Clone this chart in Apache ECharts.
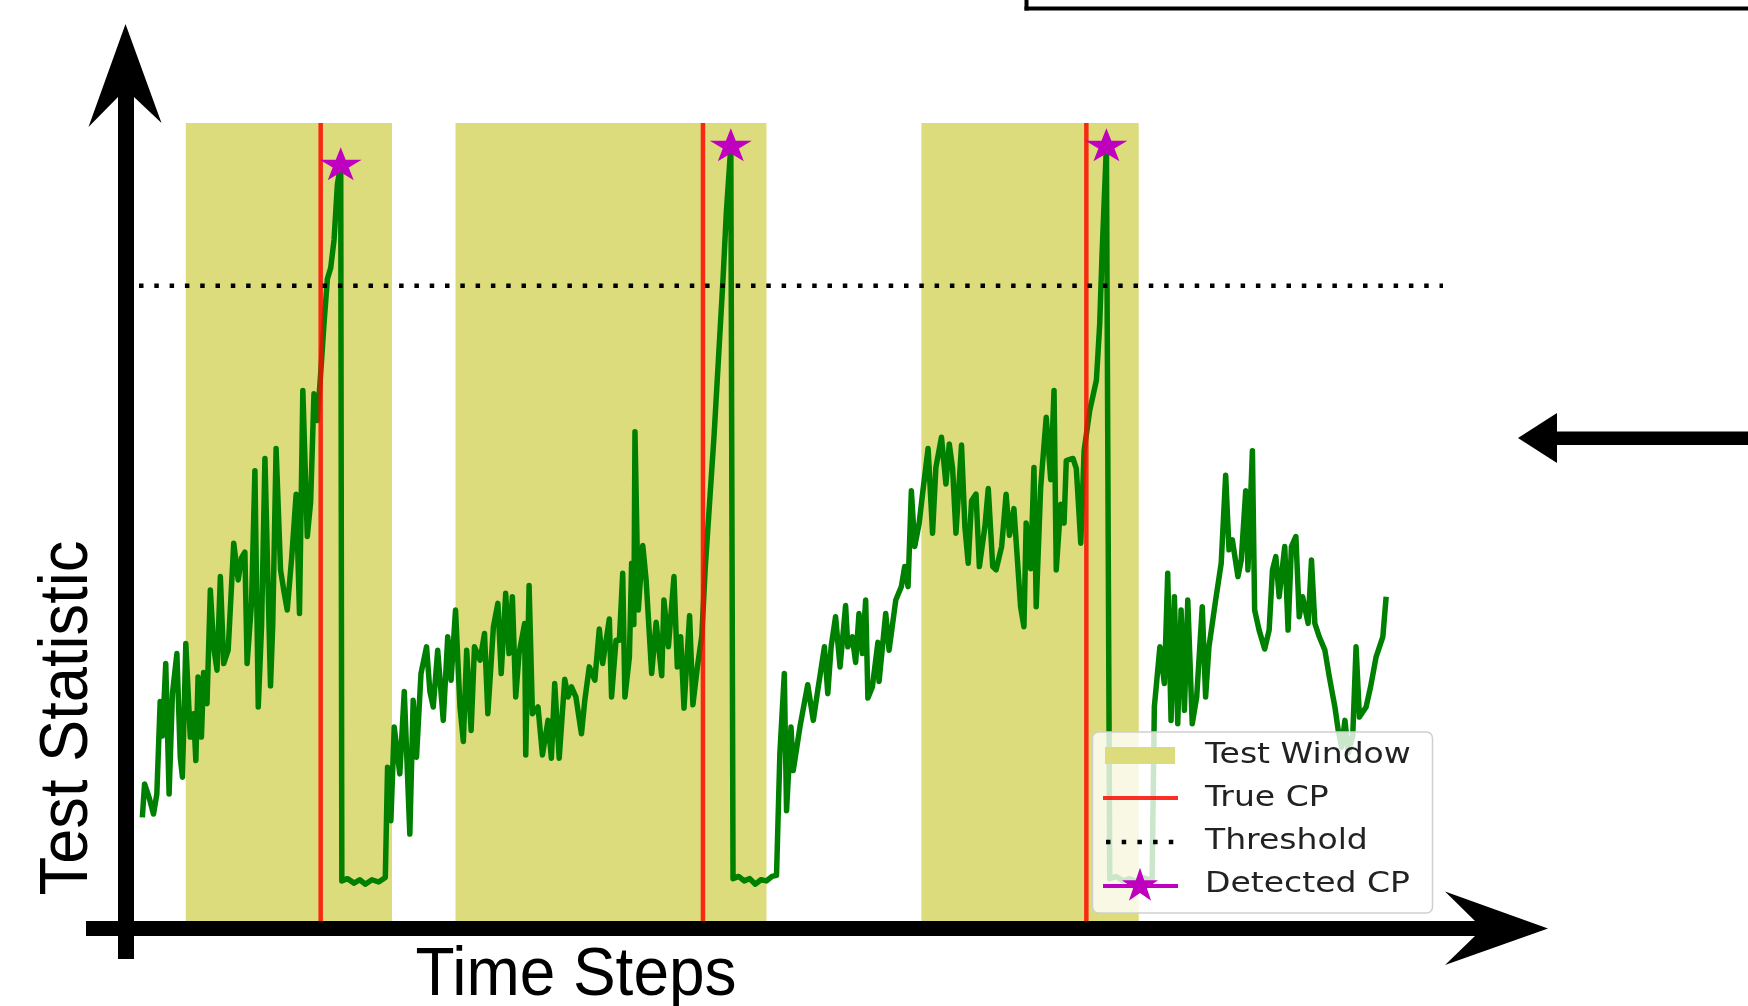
<!DOCTYPE html>
<html>
<head>
<meta charset="utf-8">
<title>Test Statistic</title>
<script src="https://cdn.jsdelivr.net/npm/echarts@6/dist/echarts.min.js"></script>
<style>
  html, body { margin: 0; padding: 0; background: #fff; }
  #chart { width: 1748px; height: 1006px; }
</style>
</head>
<body>
<div id="chart"></div>
<script>
// time steps and test statistic
var timeSteps = [
  3, 5, 9, 13, 16, 19, 21, 24, 27, 30, 34, 37, 39, 42, 46, 49, 51, 53, 56, 58,
  61, 64, 67, 70, 73, 76, 80, 85, 89, 92, 95, 97, 101, 104, 107, 110, 113, 118, 120, 123,
  127, 130, 133, 137, 141, 144, 147, 151, 154, 157, 160, 163, 166, 169, 172, 175, 178, 181,
  182, 187, 193, 198, 203, 209, 215, 221,
  223, 226, 229, 234, 238, 243, 246, 249, 253, 258, 261, 264, 268, 273, 277, 280, 284, 288,
  291, 294, 298, 301, 306, 310, 313, 318, 322, 325, 329, 332, 335, 338, 341, 346, 347, 350,
  353, 358, 362, 367, 370, 373, 377, 382, 385, 388, 392, 397, 400, 404, 409, 413, 416, 422,
  424, 428, 431, 434, 436, 440, 442, 444, 445, 448, 452, 455, 460, 464, 469, 471, 475, 480,
  483, 486, 489, 494, 497, 501, 505, 508, 512, 516, 520, 524, 527, 531,
  533, 538, 543, 548, 553, 558, 563, 568, 572,
  575, 579, 581, 585, 587, 593, 600, 605, 609, 615, 618, 621, 625, 629, 634, 636, 640, 643,
  646, 649, 652, 654, 658, 663, 664, 670, 673, 679, 684, 687, 690, 693, 696, 700, 703, 708,
  712, 715, 720, 724, 727, 730, 733, 738, 741, 744, 747, 751, 754, 759, 762, 766, 769, 774,
  778, 781, 785, 788, 791, 794, 796, 800, 803, 805, 809, 814, 818, 821, 823, 827, 830, 832,
  838, 841, 845, 848, 853, 859, 862, 864, 866, 868,
  871, 877, 883, 889, 895, 901, 907, 909,
  911, 916, 920, 923, 926, 929, 932, 935, 938, 941, 945, 949, 954, 957, 960, 966, 971, 975,
  978, 981, 986, 989, 993, 995, 999, 1001, 1005, 1010, 1014, 1017, 1020, 1023, 1028, 1031,
  1034, 1038, 1041, 1044, 1049, 1052, 1055, 1059, 1064, 1068, 1073, 1076, 1079, 1082, 1085,
  1089, 1092, 1095, 1101, 1105, 1110, 1116, 1119
];
var testStat = [
  93, 123, 111, 96, 114, 197, 166, 231, 114, 204, 240, 147, 129, 249, 165, 186, 144, 219, 165, 223,
  195, 297, 246, 225, 309, 231, 243, 339, 306, 326, 331, 231, 286, 404, 192, 266, 415, 211, 266, 424,
  315, 296, 279, 326, 383, 276, 476, 345, 376, 473, 449, 491, 536, 576, 586, 611, 661, 678,
  36, 38, 34, 37, 33, 37, 35, 39,
  138, 90, 174, 132, 206, 78, 198, 147, 222, 246, 206, 192, 243, 180, 255, 216, 279, 192,
  161, 243, 171, 246, 234, 258, 186, 264, 285, 222, 294, 240, 291, 201, 240, 267, 149, 301,
  186, 192, 149, 180, 146, 213, 146, 217, 201, 210, 201, 168, 198, 228, 216, 262, 231, 271,
  201, 252, 252, 312, 201, 237, 321, 266, 439, 279, 337, 306, 222, 268, 220, 288, 246, 309,
  228, 255, 191, 274, 194, 228, 256, 316, 376, 436, 506, 576, 636, 695,
  38, 40, 36, 38, 33, 37, 36, 40, 41,
  150, 222, 99, 174, 135, 174, 212, 180, 207, 246, 204, 246, 273, 228, 283, 246, 255, 232,
  276, 240, 288, 200, 210, 250, 215, 276, 243, 288, 300, 318, 300, 386, 336, 357, 383, 424,
  348, 407, 434, 392, 428, 406, 348, 427, 354, 321, 377, 383, 318, 354, 388, 318, 315, 336,
  383, 346, 370, 326, 282, 264, 357, 316, 407, 282, 389, 452, 396, 476, 315, 374, 357, 413,
  415, 406, 339, 422, 458, 485, 536, 596, 646, 695,
  38, 40, 36, 38, 35, 39, 37, 38,
  192, 246, 213, 312, 180, 291, 177, 279, 189, 288, 177, 201, 282, 201, 246, 288, 321, 400,
  333, 342, 309, 324, 386, 315, 422, 279, 261, 244, 261, 315, 327, 291, 336, 261,
  336, 345, 273, 291, 267, 324, 267, 255, 243, 219, 192, 171, 156, 180, 151,
  166, 246, 183, 192, 210, 237, 255, 291
];

// test windows, true and detected change points, threshold
var windowStarts = [42, 284, 702];
var windowEnds = [227, 563, 897];
var trueCP = [163, 506, 850];
var detectedT = [181, 531, 868];
var detectedStat = [678, 695, 695];
var threshold = 570;

var tMax = 1170;
var statMax = 716;

var legendNames = ['Test Window', 'True CP', 'Threshold', 'Detected CP'];
var xTitle = 'Time Steps';
var yTitle = 'Test Statistic';

var YELLOW = '#dddc7c';
var GREEN = '#008000';
var RED = 'rgba(250,10,0,0.85)';
var MAGENTA = '#bf00bf';

var STAR = [[0, -100], [22.45, -30.9], [95.1, -30.9], [36.3, 11.8], [58.8, 80.9],
  [0, 38.2], [-58.8, 80.9], [-36.3, 11.8], [-95.1, -30.9], [-22.45, -30.9]];
var starPath = 'path://' + STAR.map(function (p, i) {
  return (i ? 'L' : 'M') + p[0] + ',' + p[1]
}).join('') + 'Z';

function starPoints(cx, cy, w, h) {
  return STAR.map(function (p) {
    return [cx + p[0] / 190.2 * w, cy + p[1] / 180.9 * h]
  })
}

var lineData = timeSteps.map(function (t, i) { return [t, testStat[i]] });
var bandData = windowStarts.map(function (s, i) { return [s, windowEnds[i]] });
var cpData = trueCP.map(function (t) { return [t] });
var starData = detectedT.map(function (t, i) { return [t, detectedStat[i]] });

// hand drawn arrows, frame and legend
var graphics = [
  { type: 'rect', z: 100, shape: { x: 118, y: 96, width: 16, height: 863 }, style: { fill: '#000' } },
  { type: 'polygon', z: 100, shape: { points: [[125.5, 24], [161.5, 123], [134, 97], [118, 97], [88.5, 127]] }, style: { fill: '#000' } },
  { type: 'rect', z: 100, shape: { x: 86, y: 921, width: 1390, height: 15 }, style: { fill: '#000' } },
  { type: 'polygon', z: 100, shape: { points: [[1548, 928.5], [1445, 891.5], [1475, 921], [1475, 936], [1445, 965]] }, style: { fill: '#000' } },
  { type: 'polygon', z: 100, shape: { points: [[1518, 438], [1557, 413], [1557, 463]] }, style: { fill: '#000' } },
  { type: 'rect', z: 100, shape: { x: 1556, y: 431.5, width: 192, height: 13.5 }, style: { fill: '#000' } },
  { type: 'rect', z: 100, shape: { x: 1024.5, y: 6.5, width: 724, height: 4 }, style: { fill: '#000' } },
  { type: 'rect', z: 100, shape: { x: 1024.5, y: 0, width: 4, height: 10.5 }, style: { fill: '#000' } },
  {
    type: 'text', z: 100, x: 68, y: 718, rotation: Math.PI / 2, scaleX: 0.93,
    style: { text: yTitle, font: '68px "Liberation Sans", Arial, sans-serif', fill: '#000', textAlign: 'center', textVerticalAlign: 'middle' }
  },
  {
    type: 'text', z: 100, x: 576, y: 976, scaleX: 0.94,
    style: { text: xTitle, font: '68px "Liberation Sans", Arial, sans-serif', fill: '#000', textAlign: 'center', textVerticalAlign: 'middle' }
  },
  // legend
  {
    type: 'rect', z: 100, shape: { x: 1092.5, y: 732, width: 340, height: 181, r: 6 },
    style: { fill: 'rgba(255,255,255,0.8)', stroke: '#cfcfcf', lineWidth: 1.5 }
  },
  { type: 'rect', z: 101, shape: { x: 1105, y: 747, width: 70, height: 17 }, style: { fill: YELLOW } },
  { type: 'line', z: 101, shape: { x1: 1103, y1: 798, x2: 1178, y2: 798 }, style: { stroke: RED, lineWidth: 4 } },
  { type: 'line', z: 101, shape: { x1: 1106, y1: 842, x2: 1176, y2: 842 }, style: { stroke: '#000', lineWidth: 4.5, lineDash: [4.5, 11.2] } },
  { type: 'line', z: 101, shape: { x1: 1103, y1: 886, x2: 1178, y2: 886 }, style: { stroke: MAGENTA, lineWidth: 4 } },
  { type: 'polygon', z: 102, shape: { points: starPoints(1140, 886, 36, 33) }, style: { fill: MAGENTA } }
];
var rowY = [756, 799, 842, 885];
legendNames.forEach(function (name, i) {
  graphics.push({
    type: 'text', z: 102, x: 1205, y: rowY[i], scaleX: 1.18,
    style: { text: name, font: '28px "DejaVu Sans", sans-serif', fill: '#222', textAlign: 'left', textVerticalAlign: 'middle' }
  })
});

var chart = echarts.init(document.getElementById('chart'));
var option = {
  animation: false,
  backgroundColor: '#fff',
  grid: { left: 139, right: 305, top: 123, bottom: 85 },
  xAxis: { type: 'value', min: 0, max: tMax, show: false },
  yAxis: { type: 'value', min: 0, max: statMax, show: false },
  series: [
    {
      name: 'Test Window',
      type: 'custom',
      z: 1,
      data: bandData,
      renderItem: function (params, api) {
        var p0 = api.coord([api.value(0), statMax]);
        var p1 = api.coord([api.value(1), 0]);
        return {
          type: 'rect',
          shape: { x: p0[0], y: p0[1], width: p1[0] - p0[0], height: p1[1] - p0[1] },
          style: { fill: YELLOW }
        }
      }
    },
    {
      name: 'Statistic',
      type: 'line',
      z: 3,
      data: lineData,
      showSymbol: false,
      symbol: 'none',
      lineStyle: { color: GREEN, width: 5.5, join: 'round' }
    },
    {
      name: 'True CP',
      type: 'custom',
      z: 4,
      data: cpData,
      renderItem: function (params, api) {
        var a = api.coord([api.value(0), 0]);
        var b = api.coord([api.value(0), statMax]);
        return {
          type: 'line',
          shape: { x1: a[0], y1: a[1], x2: b[0], y2: b[1] },
          style: { stroke: RED, lineWidth: 4.5 }
        }
      }
    },
    {
      name: 'Threshold',
      type: 'line',
      z: 5,
      data: [[0, threshold], [tMax, threshold]],
      symbol: 'none',
      lineStyle: { color: '#000', width: 4.5, type: [4.5, 10.8], cap: 'butt' }
    },
    {
      name: 'Detected CP',
      type: 'scatter',
      z: 6,
      data: starData,
      symbol: starPath,
      symbolSize: [42, 33],
      symbolOffset: [0, -1.7],
      itemStyle: { color: MAGENTA, opacity: 1 }
    }
  ],
  graphic: graphics
};
chart.setOption(option);
</script>
</body>
</html>
